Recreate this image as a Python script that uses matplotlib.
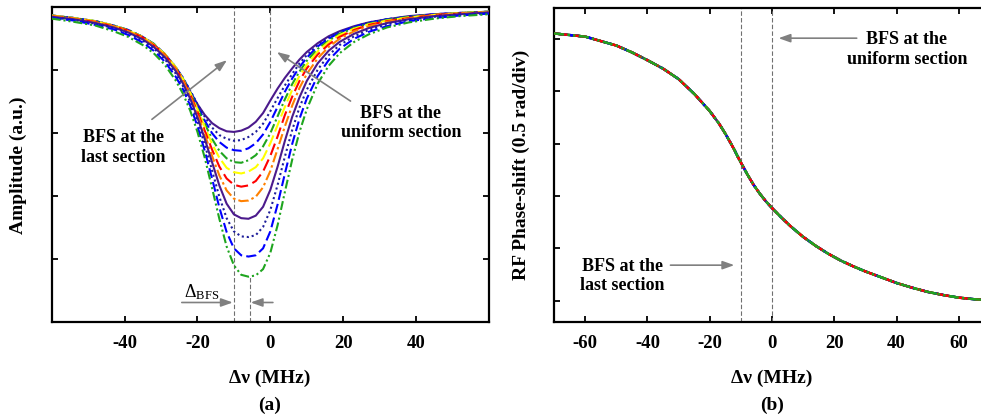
import matplotlib
matplotlib.use("Agg")
import matplotlib.pyplot as plt

plt.rcParams['font.family'] = ['Liberation Serif', 'DejaVu Serif']
plt.rcParams['mathtext.fontset'] = 'custom'
plt.rcParams['mathtext.rm'] = 'Liberation Serif'
plt.rcParams['mathtext.it'] = 'Liberation Serif:italic'
plt.rcParams['mathtext.bf'] = 'Liberation Serif:bold'
plt.rcParams['axes.unicode_minus'] = False

# ---------------- data: (a) amplitude spectra ----------------
amp_x = [-60, -54, -48, -43, -39, -35, -32, -29, -26, -24, -22, -20, -18, -16, -14, -12, -10, -8, -6, -4,
         -2, 0, 2, 4, 6, 8, 10, 13, 16, 19, 23, 27, 32, 38, 45, 52, 60]
amp_1 = [4.87, 4.83, 4.77, 4.70, 4.62, 4.51, 4.39, 4.23, 4.02, 3.85, 3.66, 3.46, 3.29, 3.16, 3.08, 3.03, 3.02, 3.04, 3.09, 3.18,
         3.32, 3.52, 3.71, 3.88, 4.03, 4.17, 4.29, 4.43, 4.54, 4.62, 4.70, 4.76, 4.81, 4.86, 4.89, 4.91, 4.93]
amp_2 = [4.87, 4.83, 4.78, 4.71, 4.64, 4.53, 4.41, 4.26, 4.05, 3.88, 3.68, 3.46, 3.26, 3.09, 2.97, 2.91, 2.88, 2.89, 2.94, 3.02,
         3.15, 3.35, 3.56, 3.76, 3.94, 4.11, 4.24, 4.40, 4.52, 4.61, 4.69, 4.76, 4.81, 4.85, 4.89, 4.91, 4.93]
amp_3 = [4.87, 4.83, 4.78, 4.71, 4.64, 4.53, 4.42, 4.26, 4.05, 3.88, 3.67, 3.43, 3.20, 3.00, 2.86, 2.77, 2.73, 2.72, 2.76, 2.84,
         2.98, 3.18, 3.42, 3.66, 3.87, 4.05, 4.20, 4.38, 4.50, 4.60, 4.69, 4.75, 4.81, 4.85, 4.89, 4.91, 4.93]
amp_4 = [4.87, 4.83, 4.78, 4.71, 4.64, 4.53, 4.42, 4.26, 4.05, 3.87, 3.65, 3.40, 3.15, 2.91, 2.72, 2.60, 2.54, 2.53, 2.57, 2.65,
         2.79, 3.00, 3.27, 3.54, 3.78, 3.98, 4.15, 4.34, 4.47, 4.58, 4.67, 4.74, 4.80, 4.85, 4.88, 4.91, 4.93]
amp_5 = [4.87, 4.83, 4.78, 4.71, 4.63, 4.53, 4.41, 4.26, 4.05, 3.86, 3.64, 3.38, 3.10, 2.83, 2.61, 2.45, 2.38, 2.36, 2.39, 2.46,
         2.60, 2.84, 3.13, 3.42, 3.69, 3.91, 4.09, 4.30, 4.45, 4.56, 4.66, 4.73, 4.79, 4.84, 4.88, 4.91, 4.93]
amp_6 = [4.86, 4.82, 4.77, 4.70, 4.63, 4.52, 4.40, 4.25, 4.03, 3.85, 3.62, 3.34, 3.04, 2.74, 2.47, 2.28, 2.18, 2.15, 2.17, 2.24,
         2.39, 2.64, 2.95, 3.29, 3.58, 3.83, 4.03, 4.25, 4.41, 4.53, 4.64, 4.72, 4.78, 4.83, 4.88, 4.90, 4.92]
amp_7 = [4.86, 4.82, 4.76, 4.70, 4.62, 4.51, 4.39, 4.24, 4.02, 3.83, 3.59, 3.30, 2.98, 2.64, 2.33, 2.09, 1.96, 1.92, 1.93, 1.99,
         2.14, 2.40, 2.75, 3.11, 3.44, 3.72, 3.94, 4.19, 4.37, 4.50, 4.62, 4.70, 4.77, 4.82, 4.87, 4.90, 4.92]
amp_8 = [4.85, 4.81, 4.75, 4.68, 4.60, 4.49, 4.37, 4.21, 3.99, 3.79, 3.55, 3.25, 2.91, 2.54, 2.17, 1.88, 1.71, 1.65, 1.64, 1.69,
         1.83, 2.10, 2.47, 2.88, 3.26, 3.57, 3.83, 4.11, 4.31, 4.45, 4.58, 4.67, 4.75, 4.81, 4.86, 4.89, 4.92]
amp_9 = [4.84, 4.80, 4.74, 4.67, 4.59, 4.47, 4.35, 4.18, 3.95, 3.75, 3.50, 3.19, 2.82, 2.41, 1.99, 1.65, 1.44, 1.36, 1.35, 1.38,
         1.51, 1.78, 2.18, 2.63, 3.05, 3.41, 3.69, 4.01, 4.24, 4.40, 4.54, 4.64, 4.73, 4.80, 4.85, 4.88, 4.91]
amp_10 = [4.83, 4.79, 4.72, 4.65, 4.56, 4.44, 4.31, 4.14, 3.90, 3.70, 3.44, 3.11, 2.72, 2.28, 1.82, 1.43, 1.17, 1.06, 1.04, 1.06,
          1.17, 1.44, 1.87, 2.36, 2.83, 3.23, 3.55, 3.91, 4.16, 4.34, 4.50, 4.61, 4.70, 4.78, 4.83, 4.87, 4.90]
amp_11 = [4.82, 4.77, 4.71, 4.62, 4.53, 4.40, 4.27, 4.09, 3.84, 3.63, 3.36, 3.02, 2.61, 2.13, 1.64, 1.20, 0.90, 0.75, 0.72, 0.74,
          0.84, 1.10, 1.54, 2.07, 2.58, 3.02, 3.38, 3.79, 4.07, 4.27, 4.45, 4.57, 4.68, 4.76, 4.82, 4.86, 4.89]

# ---------------- data: (b) RF phase shift (all traces coincide) ----------------
phase_x = [-70, -60, -50, -45, -40, -35, -30, -25, -20, -17, -15, -13, -12, -11, -10, -9, -8, -6, -4, -2,
           0, 3, 6, 10, 14, 18, 22, 26, 30, 35, 40, 45, 50, 55, 60, 65, 70]
phase_y = [5.10, 5.04, 4.87, 4.74, 4.59, 4.43, 4.23, 3.95, 3.62, 3.38, 3.19, 2.98, 2.87, 2.75, 2.64, 2.53, 2.42, 2.22, 2.05, 1.90,
           1.77, 1.59, 1.42, 1.22, 1.05, 0.90, 0.77, 0.66, 0.56, 0.45, 0.34, 0.25, 0.17, 0.11, 0.06, 0.03, 0.01]

# reference frequencies (MHz)
bfs_last = -10
bfs_uniform = 0
bfs_deepest = -5.5
amp_deepest_min = 0.72

amp_tick_x = [-40, -20, 0, 20, 40]
phase_tick_x = [-60, -40, -20, 0, 20, 40, 60]

amps = [amp_1, amp_2, amp_3, amp_4, amp_5, amp_6, amp_7, amp_8, amp_9, amp_10, amp_11]

styles = [
    ('#4B1A8C', '-'),
    ('#1E1E9A', (0, (1, 1.4))),
    ('#0000FF', (0, (4.8, 2.0))),
    ('#1FA51F', (0, (4.3, 1.4, 1.0, 1.4))),
    ('#FFFF00', (0, (5.8, 2.0))),
    ('#FF0000', (0, (5.8, 2.4))),
    ('#FF8000', (0, (5.0, 1.5, 1.2, 1.5))),
    ('#4B1A8C', '-'),
    ('#1E1E9A', (0, (1, 1.4))),
    ('#0000FF', (0, (4.8, 2.0))),
    ('#1FA51F', (0, (4.3, 1.4, 1.0, 1.4, 1.0, 1.4))),
]

W, H = 981, 415
fig = plt.figure(figsize=(W / 100, H / 100), dpi=100)
axA = fig.add_axes([51.7 / W, 1 - 322 / H, (489 - 51.7) / W, (322 - 7.3) / H])
axB = fig.add_axes([554 / W, 1 - 322.3 / H, (990 - 554) / W, (322.3 - 8.3) / H])

grey = '#808080'
dash_c = '#707070'
for i in range(11):
    axA.plot(amp_x, amps[i], color=styles[i][0], ls=styles[i][1], lw=1.5, zorder=3)

phase_order = [0, 1, 2, 4, 6, 7, 8, 9, 3, 5, 10]
for i in phase_order:
    axB.plot(phase_x, phase_y, color=styles[i][0], ls=styles[i][1], lw=1.7, zorder=3)

# vertical dashed markers
vls = (0, (4, 2))
axA.plot([bfs_last, bfs_last], [0, 5], color=dash_c, ls=vls, lw=0.8, zorder=2)
axA.plot([bfs_uniform, bfs_uniform], [3.72, 5], color=dash_c, ls=vls, lw=0.8, zorder=2)
axA.plot([bfs_deepest, bfs_deepest], [0, amp_deepest_min], color=dash_c, ls=vls, lw=0.8, zorder=2)
axB.plot([bfs_last, bfs_last], [-0.41, 5.58], color=dash_c, ls=vls, lw=0.8, zorder=2)
axB.plot([bfs_uniform, bfs_uniform], [-0.41, 5.58], color=dash_c, ls=vls, lw=0.8, zorder=2)

ap = dict(arrowstyle='-|>,head_length=0.7,head_width=0.25', color=grey, lw=1.2,
          shrinkA=0, shrinkB=0)
fs = 13
axA.annotate('', xy=(-11.9, 4.16), xytext=(-32.5, 3.22), arrowprops=ap)
axA.text(-40.4, 2.77, 'BFS at the\nlast section', ha='center', va='center',
         fontsize=fs, fontweight='bold')
axA.annotate('', xy=(1.8, 4.29), xytext=(22.0, 3.51), arrowprops=ap)
axA.text(35.8, 3.16, 'BFS at the\nuniform section', ha='center', va='center',
         fontsize=fs, fontweight='bold')
axA.annotate('', xy=(-10.3, 0.31), xytext=(-24.3, 0.31), arrowprops=ap)
axA.annotate('', xy=(-5.4, 0.31), xytext=(0.7, 0.31), arrowprops=ap)
axA.text(-23.6, 0.40, r'$\Delta_{\mathrm{BFS}}$', fontsize=13, ha='left', va='baseline')

axB.annotate('', xy=(2.1, 5.01), xytext=(27.2, 5.01), arrowprops=ap)
axB.text(43.3, 4.79, 'BFS at the\nuniform section', ha='center', va='center',
         fontsize=fs, fontweight='bold')
axB.annotate('', xy=(-12.1, 0.68), xytext=(-32.6, 0.68), arrowprops=ap)
axB.text(-48.1, 0.475, 'BFS at the\nlast section', ha='center', va='center',
         fontsize=fs, fontweight='bold')

axA.set_xlim(-60, 60)
axA.set_ylim(0, 5)
axA.set_xticks(amp_tick_x)
axA.set_yticks([1, 2, 3, 4])
axB.set_xlim(-70, 70)
axB.set_ylim(-0.41, 5.58)
axB.set_xticks(phase_tick_x)
axB.set_yticks([0, 1, 2, 3, 4, 5])
for ax in (axA, axB):
    ax.tick_params(direction='in', top=True, right=True, length=4.5, width=1.3,
                   labelsize=13.5, pad=9)
    ax.set_yticklabels([])
    for lab in ax.get_xticklabels():
        lab.set_fontweight('bold')
    for s in ax.spines.values():
        s.set_linewidth(1.6)

fig.text(18 / W, 1 - 165 / H, 'Amplitude (a.u.)', rotation=90, ha='center', va='center',
         fontsize=14, fontweight='bold')
fig.text(270 / W, 1 - 378 / H, 'Δν (MHz)', ha='center', va='center', fontsize=14, fontweight='bold')
fig.text(270 / W, 1 - 405 / H, '(a)', ha='center', va='center', fontsize=14, fontweight='bold')
fig.text(521.7 / W, 1 - 165 / H, 'RF Phase-shift (0.5 rad/div)', rotation=90, ha='center',
         va='center', fontsize=14, fontweight='bold')
fig.text(771.7 / W, 1 - 378 / H, 'Δν (MHz)', ha='center', va='center', fontsize=14, fontweight='bold')
fig.text(771.7 / W, 1 - 405 / H, '(b)', ha='center', va='center', fontsize=14, fontweight='bold')

fig.savefig("out.png", dpi=100)
